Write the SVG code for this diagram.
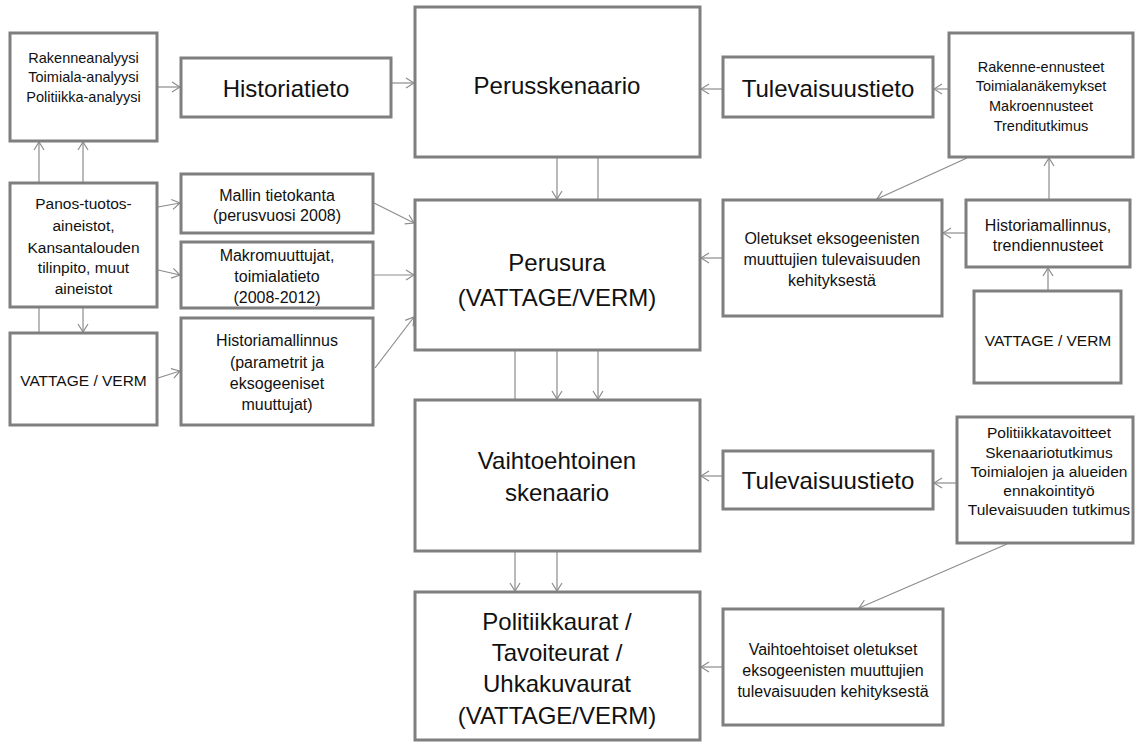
<svg xmlns="http://www.w3.org/2000/svg" width="1135" height="742" viewBox="0 0 1135 742">
<defs>
<marker id="a" markerWidth="10" markerHeight="12" refX="9" refY="6" orient="auto" markerUnits="userSpaceOnUse"><path d="M1,1 L9,6 L1,11" fill="none" stroke="#8c8c8c" stroke-width="1.2"/></marker>
<style>
.b{fill:#fff;stroke:#7f7f7f;stroke-width:3}
text{font-family:"Liberation Sans",Arial,sans-serif;fill:#111;text-anchor:middle;dominant-baseline:central}
.s{font-size:14.5px}
.m{font-size:15.5px}
.n{font-size:16px}
.L{font-size:24px}
.c line{stroke:#8c8c8c;stroke-width:1.2;fill:none}
.c .r{marker-end:url(#a)}
</style>
</defs>
<rect width="1135" height="742" fill="#fff"/>
<g class="c" id="connectors">
<line class="r" x1="158" y1="87" x2="180" y2="87"/>
<line class="r" x1="392" y1="83" x2="414" y2="83"/>
<line class="r" x1="39" y1="183" x2="39" y2="142"/>
<line class="r" x1="83" y1="183" x2="83" y2="142"/>
<line class="r" x1="158" y1="207" x2="180" y2="203"/>
<line class="r" x1="158" y1="270" x2="180" y2="275"/>
<line x1="39" y1="308" x2="39" y2="333"/>
<line class="r" x1="83" y1="308" x2="83" y2="332"/>
<line class="r" x1="158" y1="378" x2="180" y2="371"/>
<line class="r" x1="374" y1="203" x2="414" y2="223"/>
<line class="r" x1="374" y1="275" x2="414" y2="275"/>
<line class="r" x1="375" y1="368" x2="414" y2="317"/>
<line class="r" x1="557" y1="158" x2="557" y2="199"/>
<line x1="598" y1="158" x2="598" y2="200"/>
<line class="r" x1="722" y1="89" x2="701" y2="89"/>
<line class="r" x1="948" y1="89" x2="934" y2="89"/>
<line class="r" x1="967" y1="158" x2="877" y2="199"/>
<line class="r" x1="1049" y1="199" x2="1049" y2="158"/>
<line class="r" x1="1048" y1="290" x2="1048" y2="268"/>
<line class="r" x1="965" y1="233" x2="943" y2="233"/>
<line class="r" x1="722" y1="258" x2="701" y2="258"/>
<line x1="515" y1="351" x2="515" y2="400"/>
<line class="r" x1="557" y1="351" x2="557" y2="399"/>
<line class="r" x1="598" y1="351" x2="598" y2="399"/>
<line class="r" x1="722" y1="476" x2="701" y2="476"/>
<line class="r" x1="956" y1="483" x2="934" y2="483"/>
<line class="r" x1="1007" y1="544" x2="859" y2="608"/>
<line class="r" x1="515" y1="552" x2="515" y2="591"/>
<line class="r" x1="557" y1="552" x2="557" y2="591"/>
<line class="r" x1="722" y1="667" x2="701" y2="667"/>
</g>
<g id="n-rakenneanalyysi"><rect class="b" x="10" y="33" width="147" height="108"/>
<text class="s" x="83.5" y="58">Rakenneanalyysi</text><text class="s" x="83.5" y="77">Toimiala-analyysi</text><text class="s" x="83.5" y="97">Politiikka-analyysi</text></g>
<g id="n-historiatieto"><rect class="b" x="181" y="58" width="210" height="59"/><text class="L" x="286" y="88">Historiatieto</text></g>
<g id="n-perusskenaario"><rect class="b" x="415" y="7" width="285" height="150"/><text class="L" x="557" y="85">Perusskenaario</text></g>
<g id="n-tulevaisuustieto1"><rect class="b" x="723" y="57" width="210" height="60"/><text class="L" x="828" y="88">Tulevaisuustieto</text></g>
<g id="n-rakenne-ennusteet"><rect class="b" x="949" y="33" width="184" height="124"/>
<text class="s" x="1041" y="67">Rakenne-ennusteet</text><text class="s" x="1041" y="86">Toimialanäkemykset</text><text class="s" x="1041" y="106">Makroennusteet</text><text class="s" x="1041" y="126">Trenditutkimus</text></g>
<g id="n-panos"><rect class="b" x="10" y="183" width="147" height="124"/>
<text class="m" x="83.5" y="203">Panos-tuotos-</text><text class="m" x="83.5" y="225">aineistot,</text><text class="m" x="83.5" y="247">Kansantalouden</text><text class="m" x="83.5" y="267">tilinpito, muut</text><text class="m" x="83.5" y="288">aineistot</text></g>
<g id="n-mallin"><rect class="b" x="181" y="174" width="192" height="59"/>
<text class="n" x="277" y="195">Mallin tietokanta</text><text class="n" x="277" y="215">(perusvuosi 2008)</text></g>
<g id="n-makro"><rect class="b" x="181" y="242" width="192" height="66"/>
<text class="n" x="277" y="255">Makromuuttujat,</text><text class="n" x="277" y="276">toimialatieto</text><text class="n" x="277" y="297">(2008-2012)</text></g>
<g id="n-historiamallinnus"><rect class="b" x="181" y="318" width="192" height="107"/>
<text class="n" x="277" y="340">Historiamallinnus</text><text class="n" x="277" y="362">(parametrit ja</text><text class="n" x="277" y="383">eksogeeniset</text><text class="n" x="277" y="404">muuttujat)</text></g>
<g id="n-vattage-left"><rect class="b" x="10" y="333" width="147" height="92"/><text class="m" x="83.5" y="380">VATTAGE / VERM</text></g>
<g id="n-perusura"><rect class="b" x="415" y="200" width="285" height="150"/>
<text class="L" x="557" y="262">Perusura</text><text class="L" x="557" y="297">(VATTAGE/VERM)</text></g>
<g id="n-oletukset"><rect class="b" x="723" y="200" width="219" height="116"/>
<text class="n" x="832" y="238">Oletukset eksogeenisten</text><text class="n" x="832" y="259">muuttujien tulevaisuuden</text><text class="n" x="832" y="280">kehityksestä</text></g>
<g id="n-historiamallinnus-trend"><rect class="b" x="966" y="200" width="164" height="67"/>
<text class="n" x="1048" y="225">Historiamallinnus,</text><text class="n" x="1048" y="245">trendiennusteet</text></g>
<g id="n-vattage-right"><rect class="b" x="974" y="291" width="147" height="92"/><text class="m" x="1048" y="340">VATTAGE / VERM</text></g>
<g id="n-vaihtoehtoinen"><rect class="b" x="415" y="400" width="285" height="151"/>
<text class="L" x="557" y="460">Vaihtoehtoinen</text><text class="L" x="557" y="492">skenaario</text></g>
<g id="n-tulevaisuustieto2"><rect class="b" x="723" y="451" width="210" height="58"/><text class="L" x="828" y="480">Tulevaisuustieto</text></g>
<g id="n-politiikkatavoitteet"><rect class="b" x="957" y="417" width="176" height="126"/>
<text class="m" x="1049" y="432">Politiikkatavoitteet</text><text class="m" x="1049" y="452">Skenaariotutkimus</text><text class="m" x="1049" y="471">Toimialojen ja alueiden</text><text class="m" x="1049" y="490">ennakointityö</text><text class="m" x="1049" y="509">Tulevaisuuden tutkimus</text></g>
<g id="n-politiikkaurat"><rect class="b" x="415" y="592" width="285" height="148"/>
<text class="L" x="557" y="621">Politiikkaurat /</text><text class="L" x="557" y="652">Tavoiteurat /</text><text class="L" x="557" y="683">Uhkakuvaurat</text><text class="L" x="557" y="715">(VATTAGE/VERM)</text></g>
<g id="n-vaihtoehtoiset-oletukset"><rect class="b" x="723" y="609" width="220" height="116"/>
<text class="n" x="833" y="649">Vaihtoehtoiset oletukset</text><text class="n" x="833" y="670">eksogeenisten muuttujien</text><text class="n" x="833" y="691">tulevaisuuden kehityksestä</text></g>
</svg>
